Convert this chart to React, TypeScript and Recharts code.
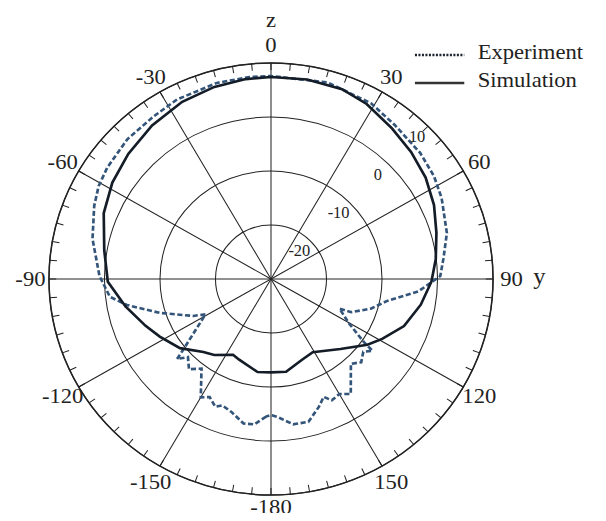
import React from 'react';
import {
  Legend,
  PolarAngleAxis,
  PolarGrid,
  PolarRadiusAxis,
  Radar,
  RadarChart,
} from 'recharts';

// angles in degrees (0 = z axis at top, +90 = y axis), gain in dB
const EXPERIMENT_ANGLES = [
  -178, -173.6, -169.5, -163.7, -159.5, -157, -153.2, -150, -143, -138.5, -134, -131.2,
  -129.7, -119, -116, -107.4, -100.5, -96.5, -89, -77, -67, -61, -55, -45, -35, -27, -15,
  -6, 0, 15.7, 29, 38, 49, 57, 64, 75, 83, 89, 95, 101, 107, 113, 114, 120.5, 125, 126, 129,
  133.5, 137.5, 146, 150, 154, 156.5, 160, 165.7, 171.6, 177.3, 180,
];
const EXPERIMENT_DB = [
  -4.5, -2.9, -2.8, -4.4, -5.0, -4.3, -5.5, -4.7, -9.2, -7.7, -9.2, -7.5,
  -9.4, -16.5, -14.4, -9.0, -3.6, -0.8, 0.9, 3.0, 4.6, 5.5, 6.0, 6.6, 6.8, 7.3, 7.6,
  7.6, 7.6, 7.8, 7.2, 6.2, 5.6, 5.0, 4.2, 2.8, 1.3, 0.5, -3.4, -8.7, -11.2, -14.3, -16.5,
  -13.6, -9.5, -7.4, -8.6, -7.6, -8.7, -4.3, -5.4, -5.0, -6.2, -4.8, -2.7, -2.8, -4.4, -4.8,
];

const SIMULATION_ANGLES = [
  -172, -159, -154, -144, -138, -128, -118, -111, -101, -91, -80, -68, -58, -48, -37, -26,
  -16, -7, 0, 10, 20, 28, 38, 47, 56, 65, 74, 83, 91, 100, 110, 119, 125, 136, 151, 160, 171,
  180,
];
const SIMULATION_DB = [
  -12.6, -14.0, -14.4, -12.6, -11.8, -9.2, -7.3, -5.8, -3.3, -0.6, 0.5, 2.5, 3.7, 4.6, 5.6,
  6.5, 7.0, 7.3, 7.4, 7.5, 7.4, 6.7, 5.4, 4.5, 3.6, 2.4, 1.0, -0.1, -1.1, -2.6, -4.5, -7.1,
  -8.8, -12.0, -14.5, -14.0, -12.6, -12.7,
];

const MAJOR_ANGLES = [-180, -150, -120, -90, -60, -30, 0, 30, 60, 90, 120, 150];
const RADIUS_TICKS = [-30, -20, -10, 0, 10];

const experimentData = EXPERIMENT_ANGLES.map((angle, i) => ({ angle, value: EXPERIMENT_DB[i] }));
const simulationData = SIMULATION_ANGLES.map((angle, i) => ({ angle, value: SIMULATION_DB[i] }));

const FONT = '"Liberation Serif", "DejaVu Serif", serif';
const TICK_SIZE = 7;
const LABEL_GAP = 18;
const INK = '#222';
const W = 575;
const H = 505;
const SVG_H = 513;
const CX = 263;
const CY = 271;
const R = 216;
const STRETCH_X = 1.028;

const renderAngleTick = (props: any) => {
  const { x, y, payload } = props;
  const v = payload.value;
  if (v % 30 !== 0 || v === 180) return <g />;
  const rad = (payload.coordinate * Math.PI) / 180;
  const d = TICK_SIZE + LABEL_GAP;
  const tx = x + Math.cos(rad) * d;
  const ty = y - Math.sin(rad) * d - (v === -180 ? 6 : 0);
  return (
    <g>
      <text x={tx} y={ty} textAnchor="middle" dominantBaseline="central"
        fontFamily={FONT} fontSize={22} fill={INK}>{v}</text>
      {v === 0 && (
        <text x={tx} y={ty - 25} textAnchor="middle" dominantBaseline="central"
          fontFamily={FONT} fontSize={22} fill={INK}>z</text>
      )}
      {v === 90 && (
        <text x={tx + 27} y={ty - 3} textAnchor="middle" dominantBaseline="central"
          fontFamily={FONT} fontSize={24} fill={INK}>y</text>
      )}
    </g>
  );
};

const renderRadiusTick = (props: any) => {
  const { x, y, payload } = props;
  if (payload.value === -30) return <g />;
  const back = 15 * Math.SQRT1_2;
  return (
    <text x={x - back} y={y + back} textAnchor="middle" dominantBaseline="central"
      fontFamily={FONT} fontSize={16} fill={INK}>{payload.value}</text>
  );
};

const legendRenderer = (dotted: boolean) => (props: any) => {
  const items = props.payload ?? [];
  return (
    <svg width={180} height={32}>
      {items.map((item: any) => (
        <g key={item.value}>
          <line x1={9} x2={57} y1={17} y2={17}
            stroke={dotted ? '#1c2430' : '#333'} strokeWidth={2.5}
            strokeDasharray={dotted ? '2 1.4' : undefined} />
          <text x={70} y={14} dominantBaseline="central" fontFamily={FONT}
            fontSize={22} fill={INK}>{item.value}</text>
        </g>
      ))}
    </svg>
  );
};

const chartProps = {
  width: W,
  height: SVG_H,
  cx: CX,
  cy: CY,
  innerRadius: 0,
  outerRadius: R,
  startAngle: 270,
  endAngle: -90,
  margin: { top: 0, right: 0, bottom: 0, left: 0 },
};

const layer: React.CSSProperties = { position: 'absolute', left: 0, top: 0 };
const legendBox = { position: 'absolute' as const, left: 394, width: 180 };

export default function App() {
  return (
    <div
      style={{
        position: 'relative',
        width: W,
        height: H,
        transform: `scaleX(${STRETCH_X})`,
        transformOrigin: `${CX}px 0px`,
      }}
    >
      <div style={layer}>
        <RadarChart {...chartProps} data={experimentData}>
          <PolarGrid
            gridType="circle"
            polarAngles={MAJOR_ANGLES.map((a) => 90 - a)}
            stroke={INK}
            strokeWidth={1}
          />
          <PolarAngleAxis
            dataKey="angle"
            type="number"
            domain={[-180, 180]}
            tickCount={73}
            orientation="inner"
            tickSize={TICK_SIZE}
            axisLineType="circle"
            axisLine={{ stroke: INK, strokeWidth: 1.5 }}
            tickLine={{ stroke: INK, strokeWidth: 1 }}
            tick={renderAngleTick}
          />
          <PolarRadiusAxis
            type="number"
            angle={45}
            domain={[-30, 10]}
            tickCount={RADIUS_TICKS.length}
            axisLine={false}
            tick={renderRadiusTick}
          />
          <Radar
            name="Experiment"
            dataKey="value"
            stroke="#34557a"
            strokeWidth={2.6}
            strokeDasharray="5 2.5"
            fill="none"
            fillOpacity={0}
            dot={false}
            isAnimationActive={false}
          />
          <Legend content={legendRenderer(true)} wrapperStyle={{ ...legendBox, top: 30 }} />
        </RadarChart>
      </div>
      <div style={layer}>
        <RadarChart {...chartProps} data={simulationData}>
          <PolarAngleAxis
            dataKey="angle"
            type="number"
            domain={[-180, 180]}
            tick={false}
            tickLine={false}
            axisLine={false}
          />
          <PolarRadiusAxis
            type="number"
            domain={[-30, 10]}
            tick={false}
            axisLine={false}
          />
          <Radar
            name="Simulation"
            dataKey="value"
            stroke="#131c27"
            strokeWidth={2.6}
            fill="none"
            fillOpacity={0}
            dot={false}
            isAnimationActive={false}
          />
          <Legend content={legendRenderer(false)} wrapperStyle={{ ...legendBox, top: 58 }} />
        </RadarChart>
      </div>
    </div>
  );
}
